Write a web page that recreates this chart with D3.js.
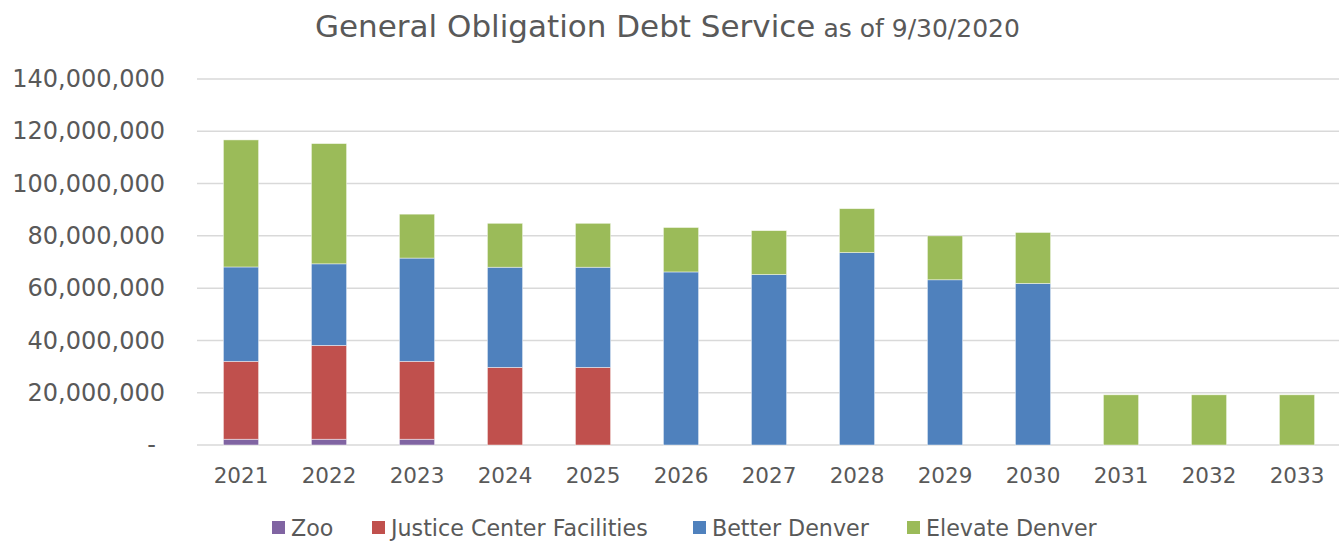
<!DOCTYPE html>
<html>
<head>
<meta charset="utf-8">
<script src="https://cdn.jsdelivr.net/npm/d3@7"></script>
<style>
  html, body { margin: 0; padding: 0; background: #fff; }
  svg text { font-family: "DejaVu Sans", sans-serif; fill: #595959; }
</style>
</head>
<body>
<svg id="chart" width="1339" height="548"></svg>
<script>
const years = ["2021","2022","2023","2024","2025","2026","2027","2028","2029","2030","2031","2032","2033"];
const seriesNames = ["Zoo", "Justice Center Facilities", "Better Denver", "Elevate Denver"];
const zoo      = [2.2, 2.2, 2.2, 0, 0, 0, 0, 0, 0, 0, 0, 0, 0];
const justice  = [29.8, 35.9, 29.8, 29.7, 29.7, 0, 0, 0, 0, 0, 0, 0, 0];
const better   = [36.1, 31.2, 39.5, 38.3, 38.3, 66.2, 65.2, 73.6, 63.2, 61.8, 0, 0, 0];
const elevate  = [48.6, 46.0, 16.8, 16.8, 16.8, 17.0, 16.8, 16.8, 16.8, 19.5, 19.2, 19.2, 19.2];
const yTicks = [0, 20000000, 40000000, 60000000, 80000000, 100000000, 120000000, 140000000];
const colors = ["#8064A2", "#C0504D", "#4F81BD", "#9BBB59"];

const M = 1e6;
const rows = years.map((yr, i) => ({
  year: yr,
  "Zoo": zoo[i] * M,
  "Justice Center Facilities": justice[i] * M,
  "Better Denver": better[i] * M,
  "Elevate Denver": elevate[i] * M
}));

const svg = d3.select("#chart");
const plotLeft = 197, plotRight = 1341, plotTop = 79, plotBottom = 445;

const x = d3.scaleBand().domain(years).range([plotLeft, plotRight]).paddingInner(0.6).paddingOuter(0.3);
const y = d3.scaleLinear().domain([0, 140000000]).range([plotBottom, plotTop]);

// gridlines
svg.append("g").selectAll("line").data(yTicks).join("line")
  .attr("x1", plotLeft).attr("x2", plotRight)
  .attr("y1", d => y(d)).attr("y2", d => y(d))
  .attr("stroke", "#D9D9D9").attr("stroke-width", 1.5);

// y axis labels
const fmt = d => d === 0 ? "-" : d3.format(",")(d);
const yAxis = d3.axisLeft(y).tickValues(yTicks).tickFormat(fmt).tickSize(0).tickPadding(0);
const ya = svg.append("g").attr("transform", `translate(${165},0)`).call(yAxis);
ya.select(".domain").remove();
ya.selectAll("text").attr("font-size", 24).attr("fill", "#595959")
  .style("font-family", "DejaVu Sans, sans-serif")
  .attr("dx", d => d === 0 ? -9 : 0);

// x axis labels
const xAxis = d3.axisBottom(x).tickSize(0).tickPadding(0);
const xa = svg.append("g").attr("transform", `translate(0,${plotBottom})`).call(xAxis);
xa.select(".domain").remove();
xa.selectAll("text").attr("font-size", 21.5).attr("fill", "#595959")
  .style("font-family", "DejaVu Sans, sans-serif")
  .attr("y", 38).attr("dy", 0);

// stacked bars
const stack = d3.stack().keys(seriesNames);
const stacked = stack(rows);
svg.append("g").selectAll("g").data(stacked).join("g")
  .attr("fill", (d, i) => colors[i])
  .selectAll("rect").data(d => d.filter(p => p[1] - p[0] > 0)).join("rect")
  .attr("x", d => x(d.data.year))
  .attr("width", x.bandwidth())
  .attr("y", d => y(d[1]))
  .attr("height", d => y(d[0]) - y(d[1]))
  .attr("stroke", "#ffffff").attr("stroke-width", 0.75).attr("stroke-opacity", 0.6);

// title
const title = svg.append("text").attr("x", 315).attr("y", 37).attr("font-size", 31);
title.append("tspan").text("General Obligation Debt Service");
title.append("tspan").attr("font-size", 25).text(" as of 9/30/2020");

// legend
const legendX = [272, 372, 693, 907];
const lg = svg.append("g").selectAll("g").data(seriesNames).join("g")
  .attr("transform", (d, i) => `translate(${legendX[i]},0)`);
lg.append("rect").attr("x", 0).attr("y", 521).attr("width", 13).attr("height", 13)
  .attr("fill", (d, i) => colors[i]);
lg.append("text").attr("x", 19).attr("y", 536).attr("font-size", 22.2).text(d => d);
</script>
</body>
</html>
